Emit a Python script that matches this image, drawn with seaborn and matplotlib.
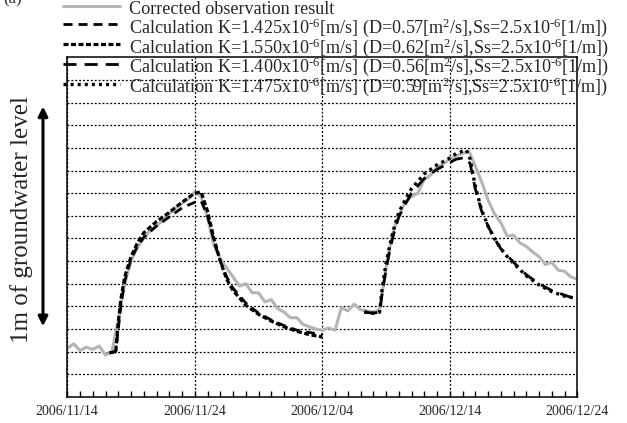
import numpy as np
import pandas as pd
import matplotlib
matplotlib.use('Agg')
import matplotlib.pyplot as plt
import matplotlib.dates as mdates
from matplotlib.lines import Line2D
import seaborn as sns

# ---- data (days after 2006/11/14, level in 0.1 m grid units) ----
start = pd.Timestamp('2006-11-14')
xtick_dates = ['2006-11-14', '2006-11-24', '2006-12-04', '2006-12-14', '2006-12-24']

obs_days = [0, 0.5, 1.0, 1.5, 2.0, 2.5, 3.0, 3.5, 4.0, 4.5, 5.0, 5.5, 6.0, 6.5, 7.0, 7.5,
            8.0, 8.5, 9.0, 9.5, 10.0, 10.5, 11.0, 11.5, 12.0, 12.5, 13.0, 13.5, 14.0, 14.5,
            15.0, 15.5, 16.0, 16.5, 17.0, 17.5, 18.0, 18.5, 19.0, 19.5, 20.0, 20.5, 21.0,
            21.5, 22.0, 22.5, 23.0, 23.5, 24.0, 24.5, 25.0, 25.5, 26.0, 26.5, 27.0, 27.5,
            28.0, 28.5, 29.0, 29.5, 30.0, 30.5, 31.0, 31.5, 32.0, 32.5, 33.0, 33.5, 34.0,
            34.5, 35.0, 35.5, 36.0, 36.5, 37.0, 37.5, 38.0, 38.5, 39.0, 39.5, 40.0]
obs_level = [2.15, 2.35, 2.05, 2.2, 2.1, 2.25, 1.85, 2.0, 3.4, 5.0, 6.0, 6.6, 7.0, 7.35, 7.55, 7.8,
             8.1, 8.35, 8.55, 8.75, 9.05, 8.85, 7.9, 6.7, 6.1, 5.7, 5.3, 4.9, 5.0, 4.6,
             4.6, 4.2, 4.3, 3.9, 3.75, 3.5, 3.5, 3.2, 3.1, 3.0, 2.95, 3.05, 2.95,
             3.95, 3.8, 4.1, 3.85, 3.8, 3.75, 3.85, 5.7, 7.2, 8.0, 8.6, 8.85, 9.0,
             9.6, 9.8, 10.15, 10.3, 10.5, 10.65, 10.75, 10.85, 10.2, 9.5, 8.7, 8.1, 7.7,
             7.1, 7.15, 6.8, 6.65, 6.4, 6.2, 5.85, 5.95, 5.6, 5.55, 5.3, 5.2]

ev1_days = [3.3, 3.8, 4.0, 4.2, 4.5, 5.0, 5.5, 6.0, 7.0, 8.0, 9.0, 10.0, 10.5, 11.0, 11.5,
            12.0, 12.5, 13.0, 14.0, 15.0, 16.0, 17.0, 18.0, 19.0, 20.0]
calc_1425 = [1.95, 2.0, 3.0, 4.0, 5.1, 6.1, 6.65, 7.05, 7.55, 7.95, 8.35, 8.6, 8.65, 8.0, 6.9,
             6.0, 5.3, 4.8, 4.15, 3.7, 3.4, 3.15, 2.95, 2.85, 2.75]
calc_1550 = [1.95, 2.0, 3.3, 4.3, 5.3, 6.2, 6.8, 7.25, 7.75, 8.15, 8.6, 9.0, 9.05, 8.2, 7.0,
             6.0, 5.2, 4.7, 4.05, 3.65, 3.35, 3.1, 2.9, 2.75, 2.65]

ev2_days = [23.3, 24.0, 24.5, 24.7, 25.0, 25.3, 25.6, 26.0, 26.5, 27.0, 28.0, 29.0, 30.0, 30.5,
            31.0, 31.3, 31.6, 32.0, 32.5, 33.0, 33.5, 34.0, 34.5, 35.0, 36.0, 37.0, 38.0, 39.0, 40.0]
calc_1400 = [3.75, 3.7, 3.75, 4.6, 5.6, 6.5, 7.2, 7.95, 8.5, 9.0, 9.65, 10.05, 10.35, 10.5,
             10.55, 10.55, 10.3, 9.2, 8.2, 7.55, 7.0, 6.55, 6.25, 5.95, 5.4, 5.0, 4.7, 4.5, 4.3]
calc_1475 = [3.75, 3.7, 3.75, 4.8, 5.9, 6.7, 7.4, 8.15, 8.7, 9.2, 9.85, 10.25, 10.55, 10.75,
             10.85, 10.9, 10.5, 9.3, 8.25, 7.55, 7.0, 6.55, 6.2, 5.9, 5.35, 4.95, 4.65, 4.45, 4.35]

labels = ['Corrected observation result',
          r'Calculation K=1.425x10$^{\text{-}6}$[m/s] (D=0.57[m$^2$/s],Ss=2.5x10$^{\text{-}6}$[1/m])',
          r'Calculation K=1.550x10$^{\text{-}6}$[m/s] (D=0.62[m$^2$/s],Ss=2.5x10$^{\text{-}6}$[1/m])',
          r'Calculation K=1.400x10$^{\text{-}6}$[m/s] (D=0.56[m$^2$/s],Ss=2.5x10$^{\text{-}6}$[1/m])',
          r'Calculation K=1.475x10$^{\text{-}6}$[m/s] (D=0.59[m$^2$/s],Ss=2.5x10$^{\text{-}6}$[1/m])']


def to_dates(days):
    return start + pd.to_timedelta(days, unit='D')


sns.set_theme(style='white')
plt.rcParams['font.family'] = ['Liberation Serif', 'DejaVu Serif']
plt.rcParams['mathtext.fontset'] = 'custom'
plt.rcParams['mathtext.rm'] = 'Liberation Serif'
plt.rcParams['mathtext.it'] = 'Liberation Serif:italic'
plt.rcParams['lines.scale_dashes'] = False

gray = '#b5b5b5'
styles = [
    dict(color=gray, lw=2.2, ls='-'),
    dict(color='black', lw=2.0, ls=(0, (6.5, 4.3))),
    dict(color='black', lw=2.3, ls=(0, (3.6, 1.8))),
    dict(color='black', lw=2.0, ls=(0, (9.4, 5.8))),
    dict(color='black', lw=2.4, ls=(0, (2.2, 2.9))),
]

fig = plt.figure(figsize=(6.27, 4.23), dpi=100)
ax = fig.add_axes([0.1073, 0.0615, 0.8134, 0.8031])

series = [(obs_days, obs_level), (ev1_days, calc_1425), (ev1_days, calc_1550),
          (ev2_days, calc_1400), (ev2_days, calc_1475)]
for (d, v), st in zip(series, styles):
    sns.lineplot(x=to_dates(d), y=v, ax=ax, color=st['color'], linewidth=st['lw'],
                 linestyle=st['ls'], legend=False)

ax.set_xlim(pd.Timestamp('2006-11-14'), pd.Timestamp('2006-12-24'))
ax.set_ylim(0, 15)
ax.set_yticks(range(1, 15))
ax.set_yticklabels([])
ax.xaxis.set_major_locator(matplotlib.ticker.FixedLocator(mdates.date2num(pd.to_datetime(xtick_dates))))
ax.xaxis.set_minor_locator(mdates.DayLocator())
ax.xaxis.set_major_formatter(mdates.DateFormatter('%Y/%m/%d'))
ax.tick_params(axis='x', which='both', direction='in', bottom=True, top=False,
               length=4, width=1, color='black', labelsize=10, pad=6)
ax.tick_params(axis='y', which='both', length=0)
ax.grid(True, which='major', color='black', linestyle=(0, (1.4, 1.4)), linewidth=0.9)
for s in ax.spines.values():
    s.set_color('black')
    s.set_linewidth(1.1)
ax.set_xlabel('')
ax.set_ylabel('')

# y label and the 1 m arrow
fig.text(0.035, 0.48, '1m of groundwater level', rotation=90, fontsize=18,
         ha='center', va='center')
ax.annotate('', xy=(-0.0476, 12.95), xytext=(-0.0476, 3.0),
            xycoords=('axes fraction', 'data'), annotation_clip=False,
            arrowprops=dict(arrowstyle='<|-|>', color='black', lw=2.2, mutation_scale=14))

fig.text(0.005, 1.0 - 3 / 423, '(a)', fontsize=12, va='baseline', ha='left')

handles = [Line2D([], [], color=st['color'], lw=st['lw'], ls=st['ls']) for st in styles]
fig.legend(handles, labels, loc='upper left', bbox_to_anchor=(0.1, 1.006), frameon=False,
           fontsize=13.1, handlelength=3.15, handletextpad=0.5, labelspacing=-0.17,
           handleheight=1.45, borderpad=0, borderaxespad=0)

fig.savefig('out.png', dpi=100)
